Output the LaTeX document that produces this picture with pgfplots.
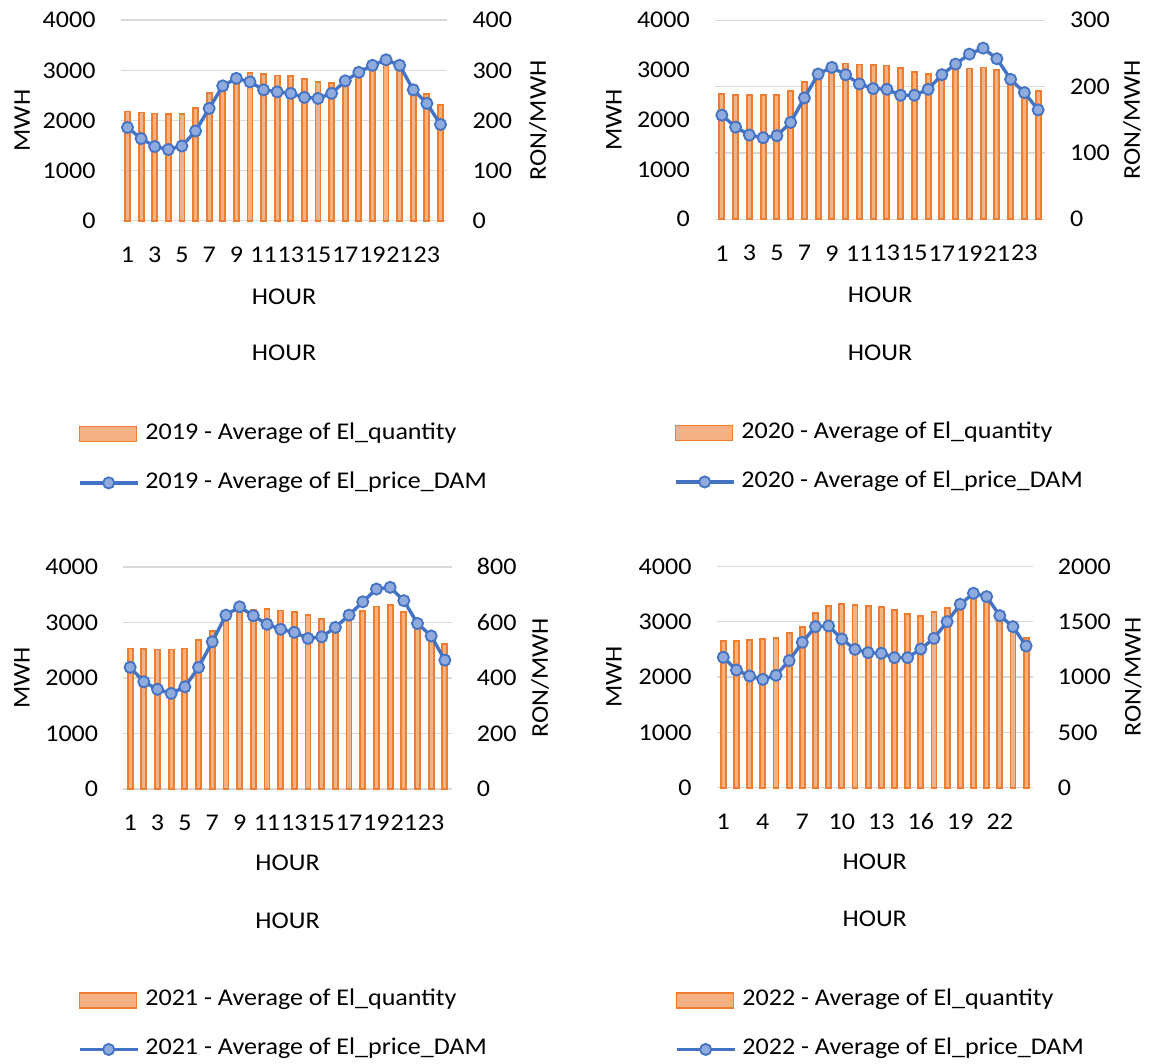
\documentclass[border=0pt]{standalone}
\usepackage{fontspec}
\setmainfont{Carlito}[FakeStretch=1.085]
\usepackage{pgfplots}
\usepackage{pgfplotstable}
\pgfplotsset{compat=1.18}

\definecolor{barEdge}{HTML}{ED7D31}
\definecolor{barFill}{HTML}{F4B183}
\definecolor{priceLine}{HTML}{4472C4}
\definecolor{priceFill}{HTML}{8FAADC}
\definecolor{gridGray}{HTML}{D9D9D9}

\newcommand\fs{\fontsize{24}{29}\selectfont}

% hourly averages: h = hour, q = El_quantity (MWh), p = El_price_DAM (RON/MWh)
\pgfplotstableread{
h q p
1 2180 186
2 2160 164
3 2140 148
4 2125 142
5 2125 149
6 2255 179
7 2555 224
8 2740 269
9 2900 284
10 2940 277
11 2920 261
12 2895 257
13 2890 254
14 2830 246
15 2760 244
16 2740 254
17 2800 279
18 2950 296
19 3080 310
20 3150 321
21 3080 310
22 2700 261
23 2520 234
24 2310 192
}\yrA

\pgfplotstableread{
h q p
1 2519 157
2 2506 139
3 2499 127
4 2492 123
5 2499 126
6 2586 146
7 2754 183
8 2870 219
9 3100 229
10 3130 218
11 3110 204
12 3100 197
13 3090 196
14 3035 187
15 2960 187
16 2920 196
17 2980 218
18 3040 234
19 3030 249
20 3050 258
21 3000 242
22 2730 211
23 2630 191
24 2573 165
}\yrB

\pgfplotstableread{
h q p
1 2531 438
2 2519 386
3 2513 359
4 2513 344
5 2531 368
6 2681 438
7 2843 530
8 3030 626
9 3200 656
10 3220 624
11 3245 593
12 3215 575
13 3191 564
14 3137 542
15 3059 548
16 2980 582
17 3100 626
18 3203 674
19 3287 720
20 3317 726
21 3191 678
22 2950 596
23 2780 551
24 2609 464
}\yrC

\pgfplotstableread{
h q p
1 2657 1178
2 2657 1063
3 2669 1009
4 2681 979
5 2699 1015
6 2801 1148
7 2898 1313
8 3151 1455
9 3289 1461
10 3313 1343
11 3307 1250
12 3283 1220
13 3265 1214
14 3217 1175
15 3145 1175
16 3102 1253
17 3169 1349
18 3247 1500
19 3350 1657
20 3450 1756
21 3400 1726
22 3150 1554
23 3000 1455
24 2711 1280
}\yrD

\pgfplotsset{
  panel/.style={
    scale only axis, anchor=south west,
    xmin=0.5, xmax=24.5, ymin=0,
    axis line style={draw=none},
    major tick length=0pt, tick style={draw=none},
    tick label style={font=\fs, inner sep=0pt},
    label style={font=\fs, inner sep=0pt},
    /pgf/number format/assume math mode=true,
    /pgf/number format/1000 sep={},
    clip=false,
  },
  qty/.style={
    panel, ymax=4000, ytick={0,1000,...,4000},
    axis x line*=bottom, axis y line*=left,
    xtick={1,3,...,23},
    yticklabel style={anchor=east, xshift=-25pt},
    xticklabel style={anchor=center, yshift=-34pt},
    ybar, bar width=5pt,
    grid style={draw=gridGray, line width=1.5pt},
    ylabel=MWH, xlabel=HOUR,
  },
  price/.style={
    panel, axis y line*=right, hide x axis,
    yticklabel style={anchor=west, xshift=25pt},
    ylabel={RON/MWH},
    legend cell align=left,
  },
  qtybars/.style={draw=barEdge, fill=barFill, line width=1.8pt},
  priceplot/.style={priceLine, line width=3.4pt, mark=*, mark size=5.6pt,
    mark options={fill=priceFill, draw=priceLine, line width=1.8pt}},
  qtyicon/.style={legend image code/.code={
    \draw[draw=barEdge, fill=barFill, line width=1.5pt] (0pt,-7.5pt) rectangle (57pt,7.5pt);}},
  priceicon/.style={legend image code/.code={
    \draw[mark repeat=2, mark phase=2, ##1] plot coordinates {(0pt,0pt) (29pt,0pt) (58pt,0pt)};}},
  legendat/.style 2 args={legend style={at={(axis description cs:#1,#2)}, anchor=north west,
    draw=none, fill=none, inner sep=0pt, outer sep=0pt, row sep=26pt, column sep=6pt,
    nodes={inner sep=0pt, text height=17pt, text depth=6pt, font=\fs}}},
}

\begin{document}
\begin{tikzpicture}[font=\fs]
\path[use as bounding box] (0pt,0pt) rectangle (1151pt,1063pt);

% ---------- 2019 ----------
\begin{axis}[qty, at={(120.7pt,842.3pt)}, width=326.6pt, height=200.5pt, ymajorgrids,
  ylabel style={at={(axis description cs:-0.302,0.5)}, anchor=center},
  xlabel style={at={(axis description cs:0.5,-0.379)}, anchor=center}]
  \addplot[qtybars] table[x=h, y=q] {\yrA};
  \node[font=\fs] at (axis description cs:0.5,-0.66) {HOUR};
\end{axis}
\begin{axis}[price, at={(120.7pt,842.3pt)}, width=326.6pt, height=200.5pt,
  ymax=400, ytick={0,100,...,400},
  ylabel style={at={(axis description cs:1.2777,0.5)}, anchor=center},
  legendat={-0.1307}{-1.006}]
  \addlegendimage{qtyicon}
  \addlegendentry{2019 - Average of El\_quantity}
  \addplot[priceplot, priceicon] table[x=h, y=p] {\yrA};
  \addlegendentry{2019 - Average of El\_price\_DAM}
\end{axis}

% ---------- 2020 ----------
\begin{axis}[qty, at={(715pt,843.7pt)}, width=330pt, height=199pt,
  extra y ticks={0,1333.333,2666.667,4000}, extra y tick labels={},
  extra y tick style={ymajorgrids=true},
  ylabel style={at={(axis description cs:-0.306,0.5)}, anchor=center},
  xlabel style={at={(axis description cs:0.5,-0.380)}, anchor=center}]
  \addplot[qtybars] table[x=h, y=q] {\yrB};
  \node[font=\fs] at (axis description cs:0.5,-0.672) {HOUR};
\end{axis}
\begin{axis}[price, at={(715pt,843.7pt)}, width=330pt, height=199pt,
  ymax=300, ytick={0,100,...,300},
  ylabel style={at={(axis description cs:1.2636,0.5)}, anchor=center},
  legendat={-0.1242}{-1.016}]
  \addlegendimage{qtyicon}
  \addlegendentry{2020 - Average of El\_quantity}
  \addplot[priceplot, priceicon] table[x=h, y=p] {\yrB};
  \addlegendentry{2020 - Average of El\_price\_DAM}
\end{axis}

% ---------- 2021 ----------
\begin{axis}[qty, at={(123.3pt,274pt)}, width=328.4pt, height=222.2pt, ymajorgrids,
  ylabel style={at={(axis description cs:-0.3085,0.5)}, anchor=center},
  xlabel style={at={(axis description cs:0.5,-0.333)}, anchor=center}]
  \addplot[qtybars] table[x=h, y=q] {\yrC};
  \node[font=\fs] at (axis description cs:0.5,-0.594) {HOUR};
\end{axis}
\begin{axis}[price, at={(123.3pt,274pt)}, width=328.4pt, height=222.2pt,
  ymax=800, ytick={0,200,...,800},
  ylabel style={at={(axis description cs:1.2689,0.5)}, anchor=center},
  legendat={-0.138}{-0.900}]
  \addlegendimage{qtyicon}
  \addlegendentry{2021 - Average of El\_quantity}
  \addplot[priceplot, priceicon] table[x=h, y=p] {\yrC};
  \addlegendentry{2021 - Average of El\_price\_DAM}
\end{axis}

% ---------- 2022 ----------
\begin{axis}[qty, at={(716.7pt,275.3pt)}, width=316pt, height=221.4pt, ymajorgrids,
  xtick={1,4,...,22},
  ylabel style={at={(axis description cs:-0.325,0.5)}, anchor=center},
  xlabel style={at={(axis description cs:0.5,-0.336)}, anchor=center}]
  \addplot[qtybars] table[x=h, y=q] {\yrD};
  \node[font=\fs] at (axis description cs:0.5,-0.593) {HOUR};
\end{axis}
\begin{axis}[price, at={(716.7pt,275.3pt)}, width=316pt, height=221.4pt,
  ymax=2000, ytick={0,500,...,2000},
  ylabel style={at={(axis description cs:1.317,0.5)}, anchor=center},
  legendat={-0.132}{-0.909}]
  \addlegendimage{qtyicon}
  \addlegendentry{2022 - Average of El\_quantity}
  \addplot[priceplot, priceicon] table[x=h, y=p] {\yrD};
  \addlegendentry{2022 - Average of El\_price\_DAM}
\end{axis}
\end{tikzpicture}
\end{document}
